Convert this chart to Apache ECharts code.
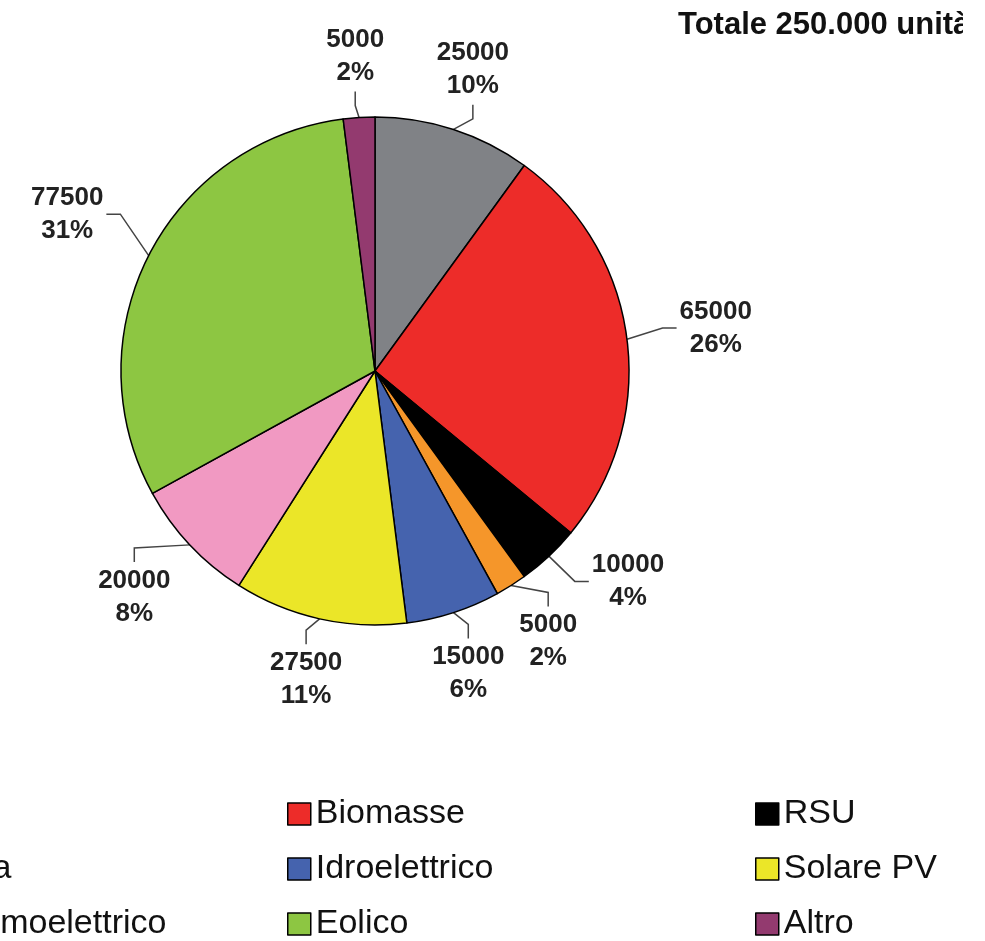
<!DOCTYPE html>
<html>
<head>
<meta charset="utf-8">
<script src="https://cdn.jsdelivr.net/npm/echarts@6/dist/echarts.min.js"></script>
<style>
html,body{margin:0;padding:0;background:#fff;}
#chart{width:985px;height:941px;}
</style>
</head>
<body>
<div id="chart"></div>
<script>
const categories = ['Metano', 'Biomasse', 'RSU', 'Geotermia', 'Idroelettrico', 'Solare PV', 'Solare termoelettrico', 'Eolico', 'Altro'];
const values = [25000, 65000, 10000, 5000, 15000, 27500, 20000, 77500, 5000];
const colors = ['#808286', '#ed2c29', '#000000', '#f5962a', '#4563ae', '#ebe628', '#f199c2', '#8dc642', '#933a6f'];
const titleText = 'Totale 250.000 unità';
const legendColumns = [
  [categories[0], categories[3], categories[6]],
  [categories[1], categories[4], categories[7]],
  [categories[2], categories[5], categories[8]]
];
const total = values.reduce((a, b) => a + b, 0);

// layout constants
const CX = 375, CY = 371, R = 254;
const ELBOW = 14;
const LABEL_FONT = 'bold 26px "Liberation Sans"';
const LABEL_LINE_H = 33;

function labelText(v) {
  return [String(v), Math.round(v / total * 100) + '%'];
}

// --- label placement (Excel-like "best fit" outside labels) ---
function smoothstep(a, b, x) {
  const t = Math.min(1, Math.max(0, (x - a) / (b - a)));
  return t * t * (3 - 2 * t);
}
const measureCtx = document.createElement('canvas').getContext('2d');
measureCtx.font = LABEL_FONT;
const labelSizes = values.map(v => {
  const lines = labelText(v);
  const w = Math.max(...lines.map(s => measureCtx.measureText(s).width));
  return [w / 2, lines.length * LABEL_LINE_H / 2];
});
const midAngles = [];
{
  let cum = 0;
  values.forEach(v => { midAngles.push((cum + v / 2) / total * 2 * Math.PI); cum += v; });
}
function labelCenter(ang, i) {
  const ux = Math.sin(ang), uy = -Math.cos(ang);
  const [hw, hh] = labelSizes[i];
  const t = Math.min(Math.abs(ux) > 1e-6 ? hw / Math.abs(ux) : 1e9, Math.abs(uy) > 1e-6 ? hh / Math.abs(uy) : 1e9);
  const gap = 28 + 25 * smoothstep(0.85, 0.9, Math.abs(ux));
  const d = R + gap + t;
  return [CX + ux * d, CY + uy * d];
}
const labelAngles = midAngles.slice();
(function resolve() {
  const n = values.length, mx = 14, my = 4, step = 0.002;
  for (let it = 0; it < 1000; it++) {
    let moved = false;
    for (let i = 0; i < n; i++) {
      const j = (i + 1) % n;
      const a = labelCenter(labelAngles[i], i), b = labelCenter(labelAngles[j], j);
      const ox = labelSizes[i][0] + labelSizes[j][0] + mx - Math.abs(a[0] - b[0]);
      const oy = labelSizes[i][1] + labelSizes[j][1] + my - Math.abs(a[1] - b[1]);
      if (ox > 0 && oy > 0) {
        labelAngles[i] -= step * 1.5;
        labelAngles[j] += step * 0.5;
        moved = true;
      }
    }
    if (!moved) break;
  }
})();
const labelCenters = labelAngles.map((a, i) => labelCenter(a, i));

function placeLabel(params) {
  const pts = params.labelLinePoints;
  const i = params.dataIndex;
  if (!pts || labelCenters[i] == null) return {};
  const [hw, hh] = labelSizes[i];
  const p0 = pts[0];
  const [cx, cy] = labelCenters[i];
  const vx = p0[0] - cx, vy = p0[1] - cy;
  let attach, elbow;
  if (Math.abs(vx) / hw > Math.abs(vy) / hh) {
    const s = Math.sign(vx);
    attach = [cx + s * (hw + 3), cy];
    elbow = [attach[0] + s * ELBOW, cy];
  } else {
    const s = Math.sign(vy);
    attach = [cx, cy + s * (hh + 2)];
    elbow = [cx, attach[1] + s * ELBOW];
  }
  return {
    x: cx, y: cy, align: 'center', verticalAlign: 'middle',
    labelLinePoints: [p0, elbow, attach]
  };
}

const chart = echarts.init(document.getElementById('chart'), null, {renderer: 'canvas'});
const legendLefts = [-176, 287, 755];
const legends = legendColumns.map((col, i) => ({
  data: col,
  orient: 'vertical',
  left: legendLefts[i],
  top: 797,
  padding: 0,
  itemWidth: 23,
  itemHeight: 22,
  itemGap: 21,
  icon: 'rect',
  itemStyle: {borderColor: '#000', borderWidth: 1.5},
  textStyle: {fontFamily: 'Liberation Sans', fontSize: 34, color: '#111', lineHeight: 34},
  selectedMode: false
}));

chart.setOption({
  animation: false,
  backgroundColor: '#fff',
  color: colors,
  title: {
    text: titleText,
    left: 678,
    top: 10,
    padding: 0,
    textStyle: {fontFamily: 'Liberation Sans', fontSize: 31, fontWeight: 'bold', color: '#111'}
  },
  legend: legends,
  graphic: [{
    type: 'rect', right: 0, top: 0, z: 100,
    shape: {width: 22, height: 60},
    style: {fill: '#fff'}
  }],
  series: [{
    type: 'pie',
    center: [CX, CY],
    radius: [0, R],
    startAngle: 90,
    clockwise: true,
    avoidLabelOverlap: false,
    itemStyle: {borderColor: '#000', borderWidth: 1.5},
    label: {
      show: true,
      position: 'outside',
      formatter: p => labelText(p.value).join('\n'),
      fontFamily: 'Liberation Sans', fontSize: 26, fontWeight: 'bold', color: '#222', lineHeight: LABEL_LINE_H,
      distanceToLabelLine: 0
    },
    labelLine: {show: true, length: 18, length2: 14, lineStyle: {color: '#444', width: 1.5}},
    labelLayout: placeLabel,
    data: categories.map((c, i) => ({name: c, value: values[i]}))
  }]
});
</script>
</body>
</html>
